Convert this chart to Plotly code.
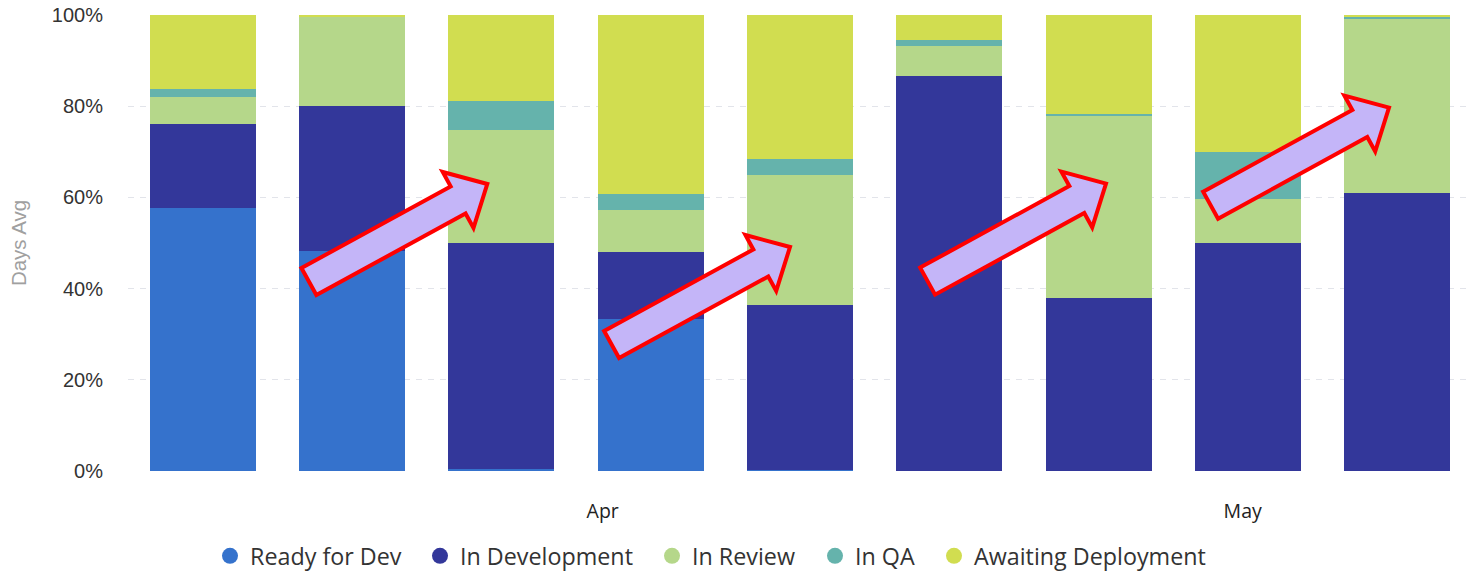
import plotly.graph_objects as go

# Weekly buckets (bar centres) and share of average days spent in each stage, in %
weeks = [
    "2023-03-13 06:00", "2023-03-20 06:00", "2023-03-27 06:00",
    "2023-04-03 06:00", "2023-04-10 06:00", "2023-04-17 06:00",
    "2023-04-24 06:00", "2023-05-01 06:00", "2023-05-08 06:00",
]
ready_for_dev = [57.6, 48.3, 0.4, 33.4, 0.2, 0.0, 0.0, 0.0, 0.0]
in_development = [18.6, 31.8, 49.5, 14.7, 36.3, 86.6, 38.0, 50.0, 61.0]
in_review = [5.9, 19.5, 24.9, 9.2, 28.5, 6.7, 40.0, 9.7, 38.1]
in_qa = [1.7, 0.0, 6.3, 3.4, 3.4, 1.2, 0.4, 10.3, 0.6]
awaiting_deployment = [16.2, 0.4, 18.9, 39.3, 31.6, 5.5, 21.6, 30.0, 0.3]

month_ticks = ["2023-04-01", "2023-05-01"]
month_labels = ["Apr", "May"]

series = [
    ("Ready for Dev", ready_for_dev, "#3572CC"),
    ("In Development", in_development, "#33379A"),
    ("In Review", in_review, "#B5D78A"),
    ("In QA", in_qa, "#65B3AC"),
    ("Awaiting Deployment", awaiting_deployment, "#D1DD50"),
]

W, H = 1476, 574
ML, MR, MT, MB = 128, 4, 13, 103
PW, PH = W - ML - MR, H - MT - MB

# left edge (px) of each legend entry along the bottom row
legend_left = [210, 420, 652, 815, 934]
legend_ids = ["legend", "legend2", "legend3", "legend4", "legend5"]

fig = go.Figure()
for name, vals, color in series:
    fig.add_trace(go.Bar(
        x=weeks, y=vals, name=name, marker=dict(color=color, line=dict(width=0)),
        showlegend=False, legendgroup=name,
    ))
# round legend keys, one legend box per entry
for (name, vals, color), lid in zip(series, legend_ids):
    fig.add_trace(go.Scatter(
        x=[None], y=[None], mode="markers", name=name, legendgroup=name,
        legend=lid, marker=dict(symbol="circle", size=18, color=color),
    ))


def to_paper(px, py):
    return (px - ML) / PW, (MT + PH - py) / PH


def arrow_path(tail, tip, shaft=15.5, head_len=33.3, head_half=32.0):
    tx, ty = tail
    hx, hy = tip
    dx, dy = hx - tx, hy - ty
    length = (dx * dx + dy * dy) ** 0.5
    ux, uy = dx / length, dy / length
    nx, ny = -uy, ux
    bx, by = hx - ux * head_len, hy - uy * head_len
    pts = [
        (tx - nx * shaft, ty - ny * shaft),
        (bx - nx * shaft, by - ny * shaft),
        (bx - nx * head_half, by - ny * head_half),
        (hx, hy),
        (bx + nx * head_half, by + ny * head_half),
        (bx + nx * shaft, by + ny * shaft),
        (tx + nx * shaft, ty + ny * shaft),
    ]
    pp = [to_paper(x, y) for x, y in pts]
    return "M " + " L ".join(f"{x:.5f},{y:.5f}" for x, y in pp) + " Z"


# highlight arrows (pixel positions of tail centre and tip)
arrows = [
    ((308.9, 280.7), (487.3, 182.7)),
    ((611.6, 344.0), (790.0, 246.0)),
    ((927.6, 280.3), (1106.0, 182.3)),
    ((1210.6, 204.0), (1389.0, 106.0)),
]
for tail, tip in arrows:
    fig.add_shape(
        type="path", xref="paper", yref="paper", path=arrow_path(tail, tip),
        fillcolor="#C4B5F8", line=dict(color="#FF0000", width=4), layer="above",
    )

legend_style = dict(
    orientation="h", xref="container", yref="container",
    xanchor="left", y=0.031, yanchor="middle",
    font=dict(family="Open Sans", size=23.3, color="#333333"),
    itemwidth=30, bgcolor="rgba(0,0,0,0)",
)
legends = {lid: dict(legend_style, x=left / W) for lid, left in zip(legend_ids, legend_left)}

fig.update_layout(
    width=W, height=H,
    margin=dict(l=ML, r=MR, t=MT, b=MB),
    barmode="stack", bargap=0.29,
    plot_bgcolor="white", paper_bgcolor="white",
    xaxis=dict(
        type="date", range=["2023-03-09 18:00", "2023-05-11 18:00"],
        tickvals=month_ticks, ticktext=month_labels,
        showgrid=False, showline=False, zeroline=False, ticks="",
        ticklabelstandoff=26,
        tickfont=dict(family="Open Sans", size=19.5, color="#222222"),
    ),
    yaxis=dict(
        range=[0, 100], dtick=20, ticksuffix="%",
        showgrid=True, gridcolor="#E2E4EA", griddash="6px,6px", gridwidth=1,
        zeroline=False, showline=False, ticks="",
        ticklabelstandoff=24,
        tickfont=dict(family="Liberation Sans", size=20, color="#333333"),
        title=dict(text="Days Avg", standoff=19,
                   font=dict(family="Liberation Sans", size=20.5, color="#A0A0A0")),
    ),
    **legends,
)

fig.write_html("out.html")
